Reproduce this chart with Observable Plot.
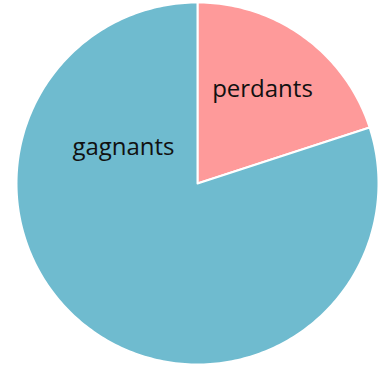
<!DOCTYPE html>
<html>
<head>
<meta charset="utf-8">
<script src="https://cdn.jsdelivr.net/npm/d3@7"></script>
<script src="https://cdn.jsdelivr.net/npm/@observablehq/plot@0.6"></script>
<style>
  html, body { margin: 0; padding: 0; background: #fff; }
  #chart svg { display: block; }
</style>
</head>
<body>
<div id="chart"></div>
<script>
// Data
const categories = ["perdants", "gagnants"];
const values = [20, 80];
const colors = ["#FE9A9A", "#6FBBCF"];

// Pie geometry (angles from d3.pie, start at 12 o'clock, clockwise)
const pie = d3.pie().sort(null).value((d, i) => values[i]);
const arcs = pie(categories);

function slicePolygon(a0, a1) {
  const pts = [[0, 0]];
  const n = Math.max(2, Math.ceil((a1 - a0) / (Math.PI / 180)));
  for (let i = 0; i <= n; i++) {
    const a = a0 + (a1 - a0) * i / n;
    pts.push([Math.sin(a), -Math.cos(a)]);
  }
  pts.push([0, 0]);
  return pts;
}

const slices = {
  type: "FeatureCollection",
  features: arcs.map((a, i) => ({
    type: "Feature",
    properties: {name: categories[i], value: values[i]},
    geometry: {type: "Polygon", coordinates: [slicePolygon(a.startAngle, a.endAngle)]}
  }))
};

// label placement (unit-circle offsets)
const labelPos = {perdants: [0.359, -0.52], gagnants: [-0.409, -0.198]};
const labels = categories.map((c) => ({name: c, x: labelPos[c][0], y: labelPos[c][1]}));

const chart = Plot.plot({
  width: 385,
  height: 367,
  marginTop: 2,
  marginBottom: 3,
  marginLeft: 16,
  marginRight: 7,
  projection: {type: "identity", domain: {type: "MultiPoint", coordinates: [[-1, -1], [1, 1]]}},
  color: {domain: categories, range: colors},
  style: {background: "#fff"},
  marks: [
    Plot.geo(slices, {fill: (d) => d.properties.name, stroke: "#fff", strokeWidth: 2, strokeLinejoin: "round"}),
    Plot.text(labels, {x: "x", y: "y", text: "name", fontSize: 24, fill: "#111", fontFamily: "'Open Sans', sans-serif"})
  ]
});
document.getElementById("chart").appendChild(chart);
</script>
</body>
</html>
